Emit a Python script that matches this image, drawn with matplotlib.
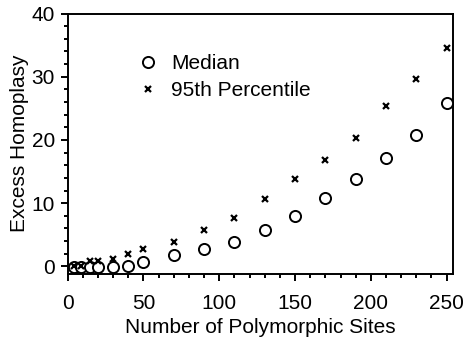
import matplotlib
matplotlib.use("Agg")
import matplotlib.pyplot as plt
from matplotlib.ticker import MultipleLocator

plt.rcParams['font.family'] = ['Liberation Sans', 'DejaVu Sans']

sites = [4, 9, 15, 20, 30, 40, 50, 70, 90, 110, 130, 150, 170, 190, 210, 230, 250]
median = [-0.1, -0.1, -0.1, -0.1, -0.1, 0.05, 0.75, 1.8, 2.75, 3.8, 5.7, 8.0, 10.8, 13.8, 17.1, 20.8, 25.8]
pct95 = [0.0, 0.0, 0.8, 0.8, 1.2, 1.9, 2.8, 3.8, 5.7, 7.6, 10.7, 13.8, 16.8, 20.3, 25.3, 29.7, 34.5]

fig = plt.figure(figsize=(4.63, 3.41), dpi=100)
ax = fig.add_axes([0.1462, 0.1965, 0.9777 - 0.1462, 0.9604 - 0.1965])

ax.plot(sites, median, linestyle='none', marker='o', markersize=8.0,
        markerfacecolor='white', markeredgecolor='black', markeredgewidth=1.4,
        label='Median', zorder=3)
ax.plot(sites, pct95, linestyle='none', marker='x', markersize=4.5,
        color='black', markeredgewidth=1.6, label='95th Percentile', zorder=4)

ax.set_xlim(0, 254)
ax.set_ylim(-1.2, 40)
ax.xaxis.set_major_locator(MultipleLocator(50))
ax.xaxis.set_minor_locator(MultipleLocator(10))
ax.yaxis.set_major_locator(MultipleLocator(10))
ax.yaxis.set_minor_locator(MultipleLocator(2))
ax.tick_params(which='major', direction='out', length=4.7, width=1.4, labelsize=15)
ax.tick_params(which='minor', direction='out', length=2.9, width=1.4)
ax.tick_params(axis='x', which='major', pad=9.5)
ax.tick_params(axis='y', which='major', pad=4.5)
ax.tick_params(top=False, right=False)
for s in ax.spines.values():
    s.set_linewidth(1.4)

ax.set_xlabel('Number of Polymorphic Sites', fontsize=15, labelpad=4)
ax.set_ylabel('Excess Homoplasy', fontsize=15, labelpad=2)

leg = ax.legend(loc='upper left', bbox_to_anchor=(0.160, 0.875), frameon=False,
                fontsize=15, handlelength=1.0, handletextpad=0.6,
                labelspacing=0.38, borderaxespad=0)

fig.savefig('out.png', dpi=100)
